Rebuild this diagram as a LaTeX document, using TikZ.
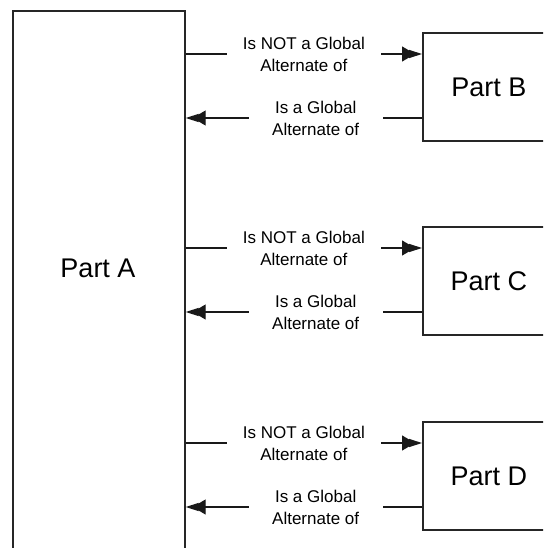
\documentclass[tikz,border=0pt]{standalone}
\usepackage{fontspec}
\setmainfont{Liberation Sans}
\usetikzlibrary{arrows.meta}
\tikzset{
  box/.style={draw=black!85, line width=1.7pt, fill=white, inner sep=0pt, anchor=north west},
  partlabel/.style={font=\fontsize{27}{30}\selectfont},
  conn/.style={draw=black!90, line width=1.3pt,
    -{Triangle[length=13pt,width=15pt,sep=-6pt]Triangle[length=13pt,width=8pt]}},
  lbl/.style={fill=white, align=center, inner ysep=1pt,
    font=\fontsize{17}{22}\selectfont},
}
\begin{document}
\begin{tikzpicture}[x=1pt,y=-1pt]
\clip (0,0) rectangle (543,548);
\fill[white] (0,0) rectangle (543,548);
% Part A
\node[box, minimum width=172pt, minimum height=640pt] (partA) at (12,10) {};
\node[partlabel] (labelA) at (98,268) {Part A};
% Parts B, C, D
\node[box, minimum width=132pt, minimum height=108pt, partlabel] (partB) at (422,32) {Part B};
\node[box, minimum width=132pt, minimum height=108pt, partlabel] (partC) at (422,226) {Part C};
\node[box, minimum width=132pt, minimum height=108pt, partlabel] (partD) at (422,421) {Part D};
% connector end points
\coordinate (bT) at (422,54);  \coordinate (aBT) at (partA.east |- bT);
\coordinate (bB) at (422,118); \coordinate (aBB) at (partA.east |- bB);
\coordinate (cT) at (422,248); \coordinate (aCT) at (partA.east |- cT);
\coordinate (cB) at (422,312); \coordinate (aCB) at (partA.east |- cB);
\coordinate (dT) at (422,443); \coordinate (aDT) at (partA.east |- dT);
\coordinate (dB) at (422,507); \coordinate (aDB) at (partA.east |- dB);
% connectors
\foreach \a/\b in {aBT/bT, aCT/cT, aDT/dT}{
  \draw[conn] (\a) -- node[lbl, minimum width=154pt, pos=0.5] {Is NOT a Global\\Alternate of} (\b);
}
\foreach \a/\b in {bB/aBB, cB/aCB, dB/aDB}{
  \draw[conn] (\a) -- node[lbl, minimum width=134pt, pos=0.45] {Is a Global\\Alternate of} (\b);
}
\end{tikzpicture}
\end{document}
